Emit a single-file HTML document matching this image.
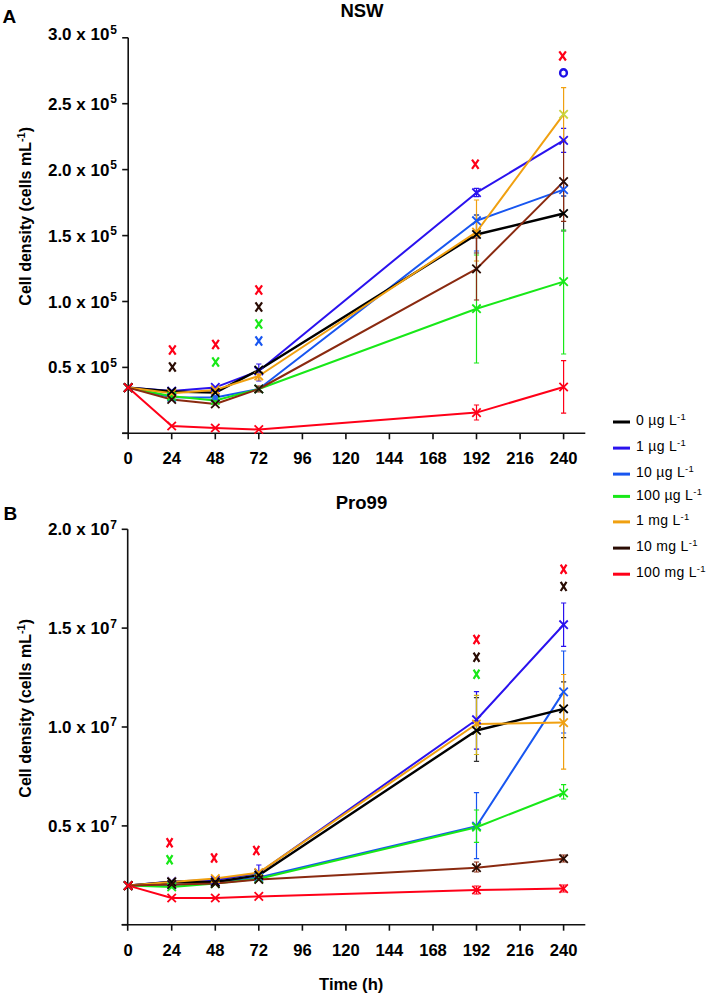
<!DOCTYPE html>
<html><head><meta charset="utf-8"><style>
html,body{margin:0;padding:0;background:#fff;}
svg{display:block;}
text{font-family:"Liberation Sans",sans-serif;}
.pl{font-size:19px;font-weight:bold;}
.ti{font-size:18.5px;font-weight:bold;}
.yl{font-size:17px;font-weight:bold;}
.sup{font-size:12px;font-weight:bold;}
.xl{font-size:16.6px;font-weight:bold;}
.yt{font-size:16px;font-weight:bold;}
.st{font-size:11px;}
.xt{font-size:16.6px;font-weight:bold;}
.an{font-size:13px;font-weight:bold;}
.lg{font-size:14px;letter-spacing:0.3px;}
.ls{font-size:9.5px;}
</style></head><body>
<svg width="708" height="996" viewBox="0 0 708 996">
<text x="2.6" y="22.6" class="pl">A</text>
<text x="3.5" y="519.5" class="pl">B</text>
<text x="362" y="17" class="ti" text-anchor="middle">NSW</text>
<text x="361.5" y="509" class="ti" text-anchor="middle">Pro99</text>
<path d="M128.2 37.8V439.3M122.19999999999999 433.3H585.3" stroke="#111" stroke-width="1.6" fill="none"/>
<path d="M122.19999999999999 433.3H128.2" stroke="#111" stroke-width="1.6"/>
<path d="M122.19999999999999 367.4H128.2" stroke="#111" stroke-width="1.6"/>
<path d="M122.19999999999999 301.5H128.2" stroke="#111" stroke-width="1.6"/>
<path d="M122.19999999999999 235.6H128.2" stroke="#111" stroke-width="1.6"/>
<path d="M122.19999999999999 169.6H128.2" stroke="#111" stroke-width="1.6"/>
<path d="M122.19999999999999 103.7H128.2" stroke="#111" stroke-width="1.6"/>
<path d="M122.19999999999999 37.8H128.2" stroke="#111" stroke-width="1.6"/>
<path d="M171.7 433.3V439.3" stroke="#111" stroke-width="1.6"/>
<path d="M215.3 433.3V439.3" stroke="#111" stroke-width="1.6"/>
<path d="M258.8 433.3V439.3" stroke="#111" stroke-width="1.6"/>
<path d="M302.4 433.3V439.3" stroke="#111" stroke-width="1.6"/>
<path d="M345.9 433.3V439.3" stroke="#111" stroke-width="1.6"/>
<path d="M389.4 433.3V439.3" stroke="#111" stroke-width="1.6"/>
<path d="M433.0 433.3V439.3" stroke="#111" stroke-width="1.6"/>
<path d="M476.5 433.3V439.3" stroke="#111" stroke-width="1.6"/>
<path d="M520.1 433.3V439.3" stroke="#111" stroke-width="1.6"/>
<path d="M563.6 433.3V439.3" stroke="#111" stroke-width="1.6"/>
<text x="109.4" y="40.2" class="yl" text-anchor="end">3.0 x 10</text><text x="110.3" y="33.6" class="sup">5</text>
<text x="109.4" y="109.7" class="yl" text-anchor="end">2.5 x 10</text><text x="110.3" y="103.1" class="sup">5</text>
<text x="109.4" y="175.6" class="yl" text-anchor="end">2.0 x 10</text><text x="110.3" y="169.0" class="sup">5</text>
<text x="109.4" y="241.6" class="yl" text-anchor="end">1.5 x 10</text><text x="110.3" y="235.0" class="sup">5</text>
<text x="109.4" y="307.5" class="yl" text-anchor="end">1.0 x 10</text><text x="110.3" y="300.9" class="sup">5</text>
<text x="109.4" y="373.4" class="yl" text-anchor="end">0.5 x 10</text><text x="110.3" y="366.8" class="sup">5</text>
<text x="128.2" y="464.1" class="xl" text-anchor="middle">0</text>
<text x="171.7" y="464.1" class="xl" text-anchor="middle">24</text>
<text x="215.3" y="464.1" class="xl" text-anchor="middle">48</text>
<text x="258.8" y="464.1" class="xl" text-anchor="middle">72</text>
<text x="302.4" y="464.1" class="xl" text-anchor="middle">96</text>
<text x="345.9" y="464.1" class="xl" text-anchor="middle">120</text>
<text x="389.4" y="464.1" class="xl" text-anchor="middle">144</text>
<text x="433.0" y="464.1" class="xl" text-anchor="middle">168</text>
<text x="476.5" y="464.1" class="xl" text-anchor="middle">192</text>
<text x="520.1" y="464.1" class="xl" text-anchor="middle">216</text>
<text x="563.6" y="464.1" class="xl" text-anchor="middle">240</text>
<path d="M127.7 529.3V930.7M121.7 924.7H585.3" stroke="#111" stroke-width="1.6" fill="none"/>
<path d="M121.7 924.7H127.7" stroke="#111" stroke-width="1.6"/>
<path d="M121.7 825.9H127.7" stroke="#111" stroke-width="1.6"/>
<path d="M121.7 727.0H127.7" stroke="#111" stroke-width="1.6"/>
<path d="M121.7 628.1H127.7" stroke="#111" stroke-width="1.6"/>
<path d="M121.7 529.3H127.7" stroke="#111" stroke-width="1.6"/>
<path d="M171.7 924.7V930.7" stroke="#111" stroke-width="1.6"/>
<path d="M215.3 924.7V930.7" stroke="#111" stroke-width="1.6"/>
<path d="M258.8 924.7V930.7" stroke="#111" stroke-width="1.6"/>
<path d="M302.4 924.7V930.7" stroke="#111" stroke-width="1.6"/>
<path d="M345.9 924.7V930.7" stroke="#111" stroke-width="1.6"/>
<path d="M389.4 924.7V930.7" stroke="#111" stroke-width="1.6"/>
<path d="M433.0 924.7V930.7" stroke="#111" stroke-width="1.6"/>
<path d="M476.5 924.7V930.7" stroke="#111" stroke-width="1.6"/>
<path d="M520.1 924.7V930.7" stroke="#111" stroke-width="1.6"/>
<path d="M563.6 924.7V930.7" stroke="#111" stroke-width="1.6"/>
<text x="109.4" y="535.3" class="yl" text-anchor="end">2.0 x 10</text><text x="110.3" y="528.7" class="sup">7</text>
<text x="109.4" y="634.1" class="yl" text-anchor="end">1.5 x 10</text><text x="110.3" y="627.5" class="sup">7</text>
<text x="109.4" y="733.0" class="yl" text-anchor="end">1.0 x 10</text><text x="110.3" y="726.4" class="sup">7</text>
<text x="109.4" y="831.9" class="yl" text-anchor="end">0.5 x 10</text><text x="110.3" y="825.2" class="sup">7</text>
<text x="128.2" y="955.5" class="xl" text-anchor="middle">0</text>
<text x="171.7" y="955.5" class="xl" text-anchor="middle">24</text>
<text x="215.3" y="955.5" class="xl" text-anchor="middle">48</text>
<text x="258.8" y="955.5" class="xl" text-anchor="middle">72</text>
<text x="302.4" y="955.5" class="xl" text-anchor="middle">96</text>
<text x="345.9" y="955.5" class="xl" text-anchor="middle">120</text>
<text x="389.4" y="955.5" class="xl" text-anchor="middle">144</text>
<text x="433.0" y="955.5" class="xl" text-anchor="middle">168</text>
<text x="476.5" y="955.5" class="xl" text-anchor="middle">192</text>
<text x="520.1" y="955.5" class="xl" text-anchor="middle">216</text>
<text x="563.6" y="955.5" class="xl" text-anchor="middle">240</text>
<text transform="translate(30.8,216.3) rotate(-90)" class="yt" text-anchor="middle">Cell density (cells mL<tspan class="st" dy="-6">-1</tspan><tspan dy="6">)</tspan></text>
<text transform="translate(30.8,708.3) rotate(-90)" class="yt" text-anchor="middle">Cell density (cells mL<tspan class="st" dy="-6">-1</tspan><tspan dy="6">)</tspan></text>
<text x="351.2" y="989.6" class="xt" text-anchor="middle">Time (h)</text>
<polyline points="128.2,387.6 171.7,391.0 215.3,387.4 258.8,371.0 476.5,192.7 563.6,140.4" fill="none" stroke="#2a12ee" stroke-width="2.0" stroke-linejoin="round"/>
<polyline points="128.2,387.6 171.7,397.3 215.3,397.5 258.8,389.0 476.5,220.7 563.6,189.6" fill="none" stroke="#1856f0" stroke-width="2.0" stroke-linejoin="round"/>
<polyline points="128.2,387.6 171.7,396.3 215.3,400.5 258.8,389.0 476.5,308.7 563.6,281.6" fill="none" stroke="#18e818" stroke-width="2.0" stroke-linejoin="round"/>
<polyline points="128.2,387.6 171.7,391.5 215.3,392.6 258.8,370.0 476.5,234.5 563.6,213.5" fill="none" stroke="#000000" stroke-width="2.4" stroke-linejoin="round"/>
<polyline points="128.2,387.6 171.7,393.3 215.3,389.9 258.8,376.0 476.5,232.0 563.6,114.3" fill="none" stroke="#f0a010" stroke-width="2.0" stroke-linejoin="round"/>
<polyline points="128.2,387.6 171.7,399.5 215.3,404.0 258.8,389.0 476.5,268.9 563.6,181.6" fill="none" stroke="#8a2a10" stroke-width="2.0" stroke-linejoin="round"/>
<polyline points="128.2,387.6 171.7,426.0 215.3,428.0 258.8,429.5 476.5,412.6 563.6,387.0" fill="none" stroke="#ff0018" stroke-width="2.0" stroke-linejoin="round"/>
<path d="M476.5 215.0V253.0M473.9 215.0H479.1M473.9 253.0H479.1" stroke="#333" stroke-width="1.2" fill="none"/>
<path d="M563.6 196.0V231.0M561.0 196.0H566.2M561.0 231.0H566.2" stroke="#333" stroke-width="1.2" fill="none"/>
<path d="M476.5 188.3V196.6M473.9 188.3H479.1M473.9 196.6H479.1" stroke="#2a12ee" stroke-width="1.2" fill="none"/>
<path d="M563.6 128.4V152.4M561.0 128.4H566.2M561.0 152.4H566.2" stroke="#2a12ee" stroke-width="1.2" fill="none"/>
<path d="M258.8 364.0V381.0M256.2 364.0H261.4M256.2 381.0H261.4" stroke="#2a12ee" stroke-width="1.2" fill="none"/>
<path d="M476.5 215.0V251.0M473.9 215.0H479.1M473.9 251.0H479.1" stroke="#1856f0" stroke-width="1.2" fill="none"/>
<path d="M563.6 183.0V196.0M561.0 183.0H566.2M561.0 196.0H566.2" stroke="#1856f0" stroke-width="1.2" fill="none"/>
<path d="M476.5 255.0V363.0M473.9 255.0H479.1M473.9 363.0H479.1" stroke="#18e818" stroke-width="1.2" fill="none"/>
<path d="M563.6 230.0V354.0M561.0 230.0H566.2M561.0 354.0H566.2" stroke="#18e818" stroke-width="1.2" fill="none"/>
<path d="M476.5 200.0V261.0M473.9 200.0H479.1M473.9 261.0H479.1" stroke="#f0a010" stroke-width="1.2" fill="none"/>
<path d="M563.6 87.6V141.0M561.0 87.6H566.2M561.0 141.0H566.2" stroke="#f0a010" stroke-width="1.2" fill="none"/>
<path d="M258.8 372.0V380.0M256.2 372.0H261.4M256.2 380.0H261.4" stroke="#f0a010" stroke-width="1.2" fill="none"/>
<path d="M476.5 238.0V300.0M473.9 238.0H479.1M473.9 300.0H479.1" stroke="#8a2a10" stroke-width="1.2" fill="none"/>
<path d="M563.6 141.0V221.3M561.0 141.0H566.2M561.0 221.3H566.2" stroke="#8a2a10" stroke-width="1.2" fill="none"/>
<path d="M258.8 386.0V392.0M256.2 386.0H261.4M256.2 392.0H261.4" stroke="#8a2a10" stroke-width="1.2" fill="none"/>
<path d="M476.5 405.0V420.0M473.9 405.0H479.1M473.9 420.0H479.1" stroke="#ff0018" stroke-width="1.2" fill="none"/>
<path d="M563.6 360.6V413.2M561.0 360.6H566.2M561.0 413.2H566.2" stroke="#ff0018" stroke-width="1.2" fill="none"/>
<path d="M124.0 383.4L132.4 391.8M132.4 383.4L124.0 391.8" stroke="#2a12ee" stroke-width="1.8" fill="none"/>
<path d="M167.5 386.8L175.9 395.2M175.9 386.8L167.5 395.2" stroke="#2a12ee" stroke-width="1.8" fill="none"/>
<path d="M211.1 383.2L219.5 391.6M219.5 383.2L211.1 391.6" stroke="#2a12ee" stroke-width="1.8" fill="none"/>
<path d="M254.6 366.8L263.0 375.2M263.0 366.8L254.6 375.2" stroke="#2a12ee" stroke-width="1.8" fill="none"/>
<path d="M472.3 188.5L480.7 196.9M480.7 188.5L472.3 196.9" stroke="#2a12ee" stroke-width="1.8" fill="none"/>
<path d="M559.4 136.2L567.8 144.6M567.8 136.2L559.4 144.6" stroke="#2a12ee" stroke-width="1.8" fill="none"/>
<path d="M124.0 383.4L132.4 391.8M132.4 383.4L124.0 391.8" stroke="#1856f0" stroke-width="1.8" fill="none"/>
<path d="M167.5 393.1L175.9 401.5M175.9 393.1L167.5 401.5" stroke="#1856f0" stroke-width="1.8" fill="none"/>
<path d="M211.1 393.3L219.5 401.7M219.5 393.3L211.1 401.7" stroke="#1856f0" stroke-width="1.8" fill="none"/>
<path d="M254.6 384.8L263.0 393.2M263.0 384.8L254.6 393.2" stroke="#1856f0" stroke-width="1.8" fill="none"/>
<path d="M472.3 216.5L480.7 224.9M480.7 216.5L472.3 224.9" stroke="#1856f0" stroke-width="1.8" fill="none"/>
<path d="M559.4 185.4L567.8 193.8M567.8 185.4L559.4 193.8" stroke="#1856f0" stroke-width="1.8" fill="none"/>
<path d="M124.0 383.4L132.4 391.8M132.4 383.4L124.0 391.8" stroke="#18e818" stroke-width="1.8" fill="none"/>
<path d="M167.5 392.1L175.9 400.5M175.9 392.1L167.5 400.5" stroke="#18e818" stroke-width="1.8" fill="none"/>
<path d="M211.1 396.3L219.5 404.7M219.5 396.3L211.1 404.7" stroke="#18e818" stroke-width="1.8" fill="none"/>
<path d="M254.6 384.8L263.0 393.2M263.0 384.8L254.6 393.2" stroke="#18e818" stroke-width="1.8" fill="none"/>
<path d="M472.3 304.5L480.7 312.9M480.7 304.5L472.3 312.9" stroke="#18e818" stroke-width="1.8" fill="none"/>
<path d="M559.4 277.4L567.8 285.8M567.8 277.4L559.4 285.8" stroke="#18e818" stroke-width="1.8" fill="none"/>
<path d="M124.0 383.4L132.4 391.8M132.4 383.4L124.0 391.8" stroke="#f0a010" stroke-width="1.8" fill="none"/>
<path d="M167.5 389.1L175.9 397.5M175.9 389.1L167.5 397.5" stroke="#f0a010" stroke-width="1.8" fill="none"/>
<path d="M211.1 385.7L219.5 394.1M219.5 385.7L211.1 394.1" stroke="#f0a010" stroke-width="1.8" fill="none"/>
<path d="M254.6 371.8L263.0 380.2M263.0 371.8L254.6 380.2" stroke="#f0a010" stroke-width="1.8" fill="none"/>
<path d="M472.3 227.8L480.7 236.2M480.7 227.8L472.3 236.2" stroke="#f0a010" stroke-width="1.8" fill="none"/>
<path d="M559.4 110.1L567.8 118.5M567.8 110.1L559.4 118.5" stroke="#c8d440" stroke-width="1.8" fill="none"/>
<path d="M124.0 383.4L132.4 391.8M132.4 383.4L124.0 391.8" stroke="#000000" stroke-width="1.8" fill="none"/>
<path d="M167.5 387.3L175.9 395.7M175.9 387.3L167.5 395.7" stroke="#000000" stroke-width="1.8" fill="none"/>
<path d="M211.1 388.4L219.5 396.8M219.5 388.4L211.1 396.8" stroke="#000000" stroke-width="1.8" fill="none"/>
<path d="M254.6 365.8L263.0 374.2M263.0 365.8L254.6 374.2" stroke="#000000" stroke-width="1.8" fill="none"/>
<path d="M472.3 230.3L480.7 238.7M480.7 230.3L472.3 238.7" stroke="#000000" stroke-width="1.8" fill="none"/>
<path d="M559.4 209.3L567.8 217.7M567.8 209.3L559.4 217.7" stroke="#000000" stroke-width="1.8" fill="none"/>
<path d="M124.0 383.4L132.4 391.8M132.4 383.4L124.0 391.8" stroke="#2a0c04" stroke-width="1.8" fill="none"/>
<path d="M167.5 395.3L175.9 403.7M175.9 395.3L167.5 403.7" stroke="#2a0c04" stroke-width="1.8" fill="none"/>
<path d="M211.1 399.8L219.5 408.2M219.5 399.8L211.1 408.2" stroke="#2a0c04" stroke-width="1.8" fill="none"/>
<path d="M254.6 384.8L263.0 393.2M263.0 384.8L254.6 393.2" stroke="#2a0c04" stroke-width="1.8" fill="none"/>
<path d="M472.3 264.7L480.7 273.1M480.7 264.7L472.3 273.1" stroke="#2a0c04" stroke-width="1.8" fill="none"/>
<path d="M559.4 177.4L567.8 185.8M567.8 177.4L559.4 185.8" stroke="#2a0c04" stroke-width="1.8" fill="none"/>
<path d="M124.0 383.4L132.4 391.8M132.4 383.4L124.0 391.8" stroke="#ff0018" stroke-width="1.8" fill="none"/>
<path d="M167.5 421.8L175.9 430.2M175.9 421.8L167.5 430.2" stroke="#ff0018" stroke-width="1.8" fill="none"/>
<path d="M211.1 423.8L219.5 432.2M219.5 423.8L211.1 432.2" stroke="#ff0018" stroke-width="1.8" fill="none"/>
<path d="M254.6 425.3L263.0 433.7M263.0 425.3L254.6 433.7" stroke="#ff0018" stroke-width="1.8" fill="none"/>
<path d="M472.3 408.4L480.7 416.8M480.7 408.4L472.3 416.8" stroke="#ff0018" stroke-width="1.8" fill="none"/>
<path d="M559.4 382.8L567.8 391.2M567.8 382.8L559.4 391.2" stroke="#ff0018" stroke-width="1.8" fill="none"/>
<circle cx="215.3" cy="397.6" r="2.7" fill="#2a66f0"/>
<polyline points="128.2,885.6 171.7,881.4 215.3,880.0 258.8,873.0 476.5,719.7 563.6,624.7" fill="none" stroke="#2a12ee" stroke-width="2.0" stroke-linejoin="round"/>
<polyline points="128.2,885.6 171.7,885.0 215.3,882.8 258.8,877.4 476.5,826.2 563.6,691.9" fill="none" stroke="#1856f0" stroke-width="2.0" stroke-linejoin="round"/>
<polyline points="128.2,885.6 171.7,887.0 215.3,883.6 258.8,878.8 476.5,827.2 563.6,793.0" fill="none" stroke="#18e818" stroke-width="2.0" stroke-linejoin="round"/>
<polyline points="128.2,885.6 171.7,882.0 215.3,882.0 258.8,875.2 476.5,730.5 563.6,708.8" fill="none" stroke="#000000" stroke-width="2.4" stroke-linejoin="round"/>
<polyline points="128.2,885.6 171.7,881.9 215.3,878.6 258.8,872.6 476.5,724.0 563.6,722.6" fill="none" stroke="#f0a010" stroke-width="2.0" stroke-linejoin="round"/>
<polyline points="128.2,885.6 171.7,884.5 215.3,883.6 258.8,879.4 476.5,867.7 563.6,858.7" fill="none" stroke="#8a2a10" stroke-width="2.0" stroke-linejoin="round"/>
<polyline points="128.2,885.6 171.7,898.0 215.3,898.0 258.8,896.4 476.5,890.0 563.6,888.6" fill="none" stroke="#ff0018" stroke-width="2.0" stroke-linejoin="round"/>
<path d="M476.5 697.6V761.3M473.9 697.6H479.1M473.9 761.3H479.1" stroke="#333" stroke-width="1.2" fill="none"/>
<path d="M563.6 681.8V737.7M561.0 681.8H566.2M561.0 737.7H566.2" stroke="#333" stroke-width="1.2" fill="none"/>
<path d="M563.6 603.0V646.4M561.0 603.0H566.2M561.0 646.4H566.2" stroke="#2a12ee" stroke-width="1.2" fill="none"/>
<path d="M476.5 691.7V749.1M473.9 691.7H479.1M473.9 749.1H479.1" stroke="#2a12ee" stroke-width="1.2" fill="none"/>
<path d="M258.8 865.0V880.0M256.2 865.0H261.4M256.2 880.0H261.4" stroke="#2a12ee" stroke-width="1.2" fill="none"/>
<path d="M476.5 792.6V858.7M473.9 792.6H479.1M473.9 858.7H479.1" stroke="#1856f0" stroke-width="1.2" fill="none"/>
<path d="M563.6 651.0V733.0M561.0 651.0H566.2M561.0 733.0H566.2" stroke="#1856f0" stroke-width="1.2" fill="none"/>
<path d="M476.5 810.0V842.4M473.9 810.0H479.1M473.9 842.4H479.1" stroke="#18e818" stroke-width="1.2" fill="none"/>
<path d="M563.6 784.7V799.0M561.0 784.7H566.2M561.0 799.0H566.2" stroke="#18e818" stroke-width="1.2" fill="none"/>
<path d="M476.5 695.4V754.5M473.9 695.4H479.1M473.9 754.5H479.1" stroke="#d0b418" stroke-width="1.2" fill="none"/>
<path d="M563.6 674.5V769.1M561.0 674.5H566.2M561.0 769.1H566.2" stroke="#f0a010" stroke-width="1.2" fill="none"/>
<path d="M476.5 862.0V872.0M473.9 862.0H479.1M473.9 872.0H479.1" stroke="#8a2a10" stroke-width="1.2" fill="none"/>
<path d="M563.6 855.0V862.0M561.0 855.0H566.2M561.0 862.0H566.2" stroke="#8a2a10" stroke-width="1.2" fill="none"/>
<path d="M476.5 886.0V894.0M473.9 886.0H479.1M473.9 894.0H479.1" stroke="#ff0018" stroke-width="1.2" fill="none"/>
<path d="M563.6 885.0V892.0M561.0 885.0H566.2M561.0 892.0H566.2" stroke="#ff0018" stroke-width="1.2" fill="none"/>
<path d="M124.0 881.4L132.4 889.8M132.4 881.4L124.0 889.8" stroke="#2a12ee" stroke-width="1.8" fill="none"/>
<path d="M167.5 877.2L175.9 885.6M175.9 877.2L167.5 885.6" stroke="#2a12ee" stroke-width="1.8" fill="none"/>
<path d="M211.1 875.8L219.5 884.2M219.5 875.8L211.1 884.2" stroke="#2a12ee" stroke-width="1.8" fill="none"/>
<path d="M254.6 868.8L263.0 877.2M263.0 868.8L254.6 877.2" stroke="#2a12ee" stroke-width="1.8" fill="none"/>
<path d="M472.3 715.5L480.7 723.9M480.7 715.5L472.3 723.9" stroke="#2a12ee" stroke-width="1.8" fill="none"/>
<path d="M559.4 620.5L567.8 628.9M567.8 620.5L559.4 628.9" stroke="#2a12ee" stroke-width="1.8" fill="none"/>
<path d="M124.0 881.4L132.4 889.8M132.4 881.4L124.0 889.8" stroke="#1856f0" stroke-width="1.8" fill="none"/>
<path d="M167.5 880.8L175.9 889.2M175.9 880.8L167.5 889.2" stroke="#1856f0" stroke-width="1.8" fill="none"/>
<path d="M211.1 878.6L219.5 887.0M219.5 878.6L211.1 887.0" stroke="#1856f0" stroke-width="1.8" fill="none"/>
<path d="M254.6 873.2L263.0 881.6M263.0 873.2L254.6 881.6" stroke="#1856f0" stroke-width="1.8" fill="none"/>
<path d="M472.3 822.0L480.7 830.4M480.7 822.0L472.3 830.4" stroke="#1856f0" stroke-width="1.8" fill="none"/>
<path d="M559.4 687.7L567.8 696.1M567.8 687.7L559.4 696.1" stroke="#1856f0" stroke-width="1.8" fill="none"/>
<path d="M124.0 881.4L132.4 889.8M132.4 881.4L124.0 889.8" stroke="#18e818" stroke-width="1.8" fill="none"/>
<path d="M167.5 882.8L175.9 891.2M175.9 882.8L167.5 891.2" stroke="#18e818" stroke-width="1.8" fill="none"/>
<path d="M211.1 879.4L219.5 887.8M219.5 879.4L211.1 887.8" stroke="#18e818" stroke-width="1.8" fill="none"/>
<path d="M254.6 874.6L263.0 883.0M263.0 874.6L254.6 883.0" stroke="#18e818" stroke-width="1.8" fill="none"/>
<path d="M472.3 823.0L480.7 831.4M480.7 823.0L472.3 831.4" stroke="#18e818" stroke-width="1.8" fill="none"/>
<path d="M559.4 788.8L567.8 797.2M567.8 788.8L559.4 797.2" stroke="#18e818" stroke-width="1.8" fill="none"/>
<path d="M124.0 881.4L132.4 889.8M132.4 881.4L124.0 889.8" stroke="#f0a010" stroke-width="1.8" fill="none"/>
<path d="M167.5 877.7L175.9 886.1M175.9 877.7L167.5 886.1" stroke="#f0a010" stroke-width="1.8" fill="none"/>
<path d="M211.1 874.4L219.5 882.8M219.5 874.4L211.1 882.8" stroke="#f0a010" stroke-width="1.8" fill="none"/>
<path d="M254.6 868.4L263.0 876.8M263.0 868.4L254.6 876.8" stroke="#f0a010" stroke-width="1.8" fill="none"/>
<path d="M472.3 719.8L480.7 728.2M480.7 719.8L472.3 728.2" stroke="#f0a010" stroke-width="1.8" fill="none"/>
<path d="M559.4 718.4L567.8 726.8M567.8 718.4L559.4 726.8" stroke="#f0a010" stroke-width="1.8" fill="none"/>
<path d="M124.0 881.4L132.4 889.8M132.4 881.4L124.0 889.8" stroke="#000000" stroke-width="1.8" fill="none"/>
<path d="M167.5 877.8L175.9 886.2M175.9 877.8L167.5 886.2" stroke="#000000" stroke-width="1.8" fill="none"/>
<path d="M211.1 877.8L219.5 886.2M219.5 877.8L211.1 886.2" stroke="#000000" stroke-width="1.8" fill="none"/>
<path d="M254.6 871.0L263.0 879.4M263.0 871.0L254.6 879.4" stroke="#000000" stroke-width="1.8" fill="none"/>
<path d="M472.3 726.3L480.7 734.7M480.7 726.3L472.3 734.7" stroke="#000000" stroke-width="1.8" fill="none"/>
<path d="M559.4 704.6L567.8 713.0M567.8 704.6L559.4 713.0" stroke="#000000" stroke-width="1.8" fill="none"/>
<path d="M124.0 881.4L132.4 889.8M132.4 881.4L124.0 889.8" stroke="#2a0c04" stroke-width="1.8" fill="none"/>
<path d="M167.5 880.3L175.9 888.7M175.9 880.3L167.5 888.7" stroke="#2a0c04" stroke-width="1.8" fill="none"/>
<path d="M211.1 879.4L219.5 887.8M219.5 879.4L211.1 887.8" stroke="#2a0c04" stroke-width="1.8" fill="none"/>
<path d="M254.6 875.2L263.0 883.6M263.0 875.2L254.6 883.6" stroke="#2a0c04" stroke-width="1.8" fill="none"/>
<path d="M472.3 863.5L480.7 871.9M480.7 863.5L472.3 871.9" stroke="#2a0c04" stroke-width="1.8" fill="none"/>
<path d="M559.4 854.5L567.8 862.9M567.8 854.5L559.4 862.9" stroke="#2a0c04" stroke-width="1.8" fill="none"/>
<path d="M124.0 881.4L132.4 889.8M132.4 881.4L124.0 889.8" stroke="#ff0018" stroke-width="1.8" fill="none"/>
<path d="M167.5 893.8L175.9 902.2M175.9 893.8L167.5 902.2" stroke="#ff0018" stroke-width="1.8" fill="none"/>
<path d="M211.1 893.8L219.5 902.2M219.5 893.8L211.1 902.2" stroke="#ff0018" stroke-width="1.8" fill="none"/>
<path d="M254.6 892.2L263.0 900.6M263.0 892.2L254.6 900.6" stroke="#ff0018" stroke-width="1.8" fill="none"/>
<path d="M472.3 885.8L480.7 894.2M480.7 885.8L472.3 894.2" stroke="#ff0018" stroke-width="1.8" fill="none"/>
<path d="M559.4 884.4L567.8 892.8M567.8 884.4L559.4 892.8" stroke="#ff0018" stroke-width="1.8" fill="none"/>
<path d="M169.1 345.4L175.7 354.6M175.7 345.4L169.1 354.6" stroke="#ff0018" stroke-width="2.2" fill="none"/>
<path d="M169.1 362.4L175.7 371.6M175.7 362.4L169.1 371.6" stroke="#2a0c04" stroke-width="2.2" fill="none"/>
<path d="M212.3 339.9L218.9 349.1M218.9 339.9L212.3 349.1" stroke="#ff0018" stroke-width="2.2" fill="none"/>
<path d="M212.3 357.4L218.9 366.6M218.9 357.4L212.3 366.6" stroke="#18e818" stroke-width="2.2" fill="none"/>
<path d="M255.5 285.4L262.1 294.6M262.1 285.4L255.5 294.6" stroke="#ff0018" stroke-width="2.2" fill="none"/>
<path d="M255.5 302.4L262.1 311.6M262.1 302.4L255.5 311.6" stroke="#2a0c04" stroke-width="2.2" fill="none"/>
<path d="M255.5 319.4L262.1 328.6M262.1 319.4L255.5 328.6" stroke="#18e818" stroke-width="2.2" fill="none"/>
<path d="M255.5 336.4L262.1 345.6M262.1 336.4L255.5 345.6" stroke="#1856f0" stroke-width="2.2" fill="none"/>
<path d="M472.0 159.7L478.6 168.9M478.6 159.7L472.0 168.9" stroke="#ff0018" stroke-width="2.2" fill="none"/>
<path d="M559.3 51.3L565.9 60.5M565.9 51.3L559.3 60.5" stroke="#ff0018" stroke-width="2.2" fill="none"/>
<ellipse cx="563.5" cy="72.9" rx="3.4" ry="3.7" fill="none" stroke="#1e10e6" stroke-width="2.4"/>
<path d="M166.7 838.1L172.5 847.3M172.5 838.1L166.7 847.3" stroke="#ff0018" stroke-width="2.2" fill="none"/>
<path d="M166.7 855.2L172.5 864.4M172.5 855.2L166.7 864.4" stroke="#18e818" stroke-width="2.2" fill="none"/>
<path d="M211.2 853.4L217.0 862.6M217.0 853.4L211.2 862.6" stroke="#ff0018" stroke-width="2.2" fill="none"/>
<path d="M253.4 845.9L259.2 855.1M259.2 845.9L253.4 855.1" stroke="#ff0018" stroke-width="2.2" fill="none"/>
<path d="M473.6 634.9L479.4 644.1M479.4 634.9L473.6 644.1" stroke="#ff0018" stroke-width="2.2" fill="none"/>
<path d="M473.6 652.6L479.4 661.8M479.4 652.6L473.6 661.8" stroke="#2a0c04" stroke-width="2.2" fill="none"/>
<path d="M473.6 669.7L479.4 678.9M479.4 669.7L473.6 678.9" stroke="#18e818" stroke-width="2.2" fill="none"/>
<path d="M560.7 564.6L566.5 573.8M566.5 564.6L560.7 573.8" stroke="#ff0018" stroke-width="2.2" fill="none"/>
<path d="M560.7 581.8L566.5 591.0M566.5 581.8L560.7 591.0" stroke="#2a0c04" stroke-width="2.2" fill="none"/>
<path d="M613 422.0H630" stroke="#000000" stroke-width="3"/>
<text x="636" y="425.2" class="lg">0 µg L<tspan class="ls" dy="-5">-1</tspan></text>
<path d="M613 448.1H630" stroke="#2a12ee" stroke-width="3"/>
<text x="636" y="451.3" class="lg">1 µg L<tspan class="ls" dy="-5">-1</tspan></text>
<path d="M613 474.1H630" stroke="#1856f0" stroke-width="3"/>
<text x="636" y="477.3" class="lg">10 µg L<tspan class="ls" dy="-5">-1</tspan></text>
<path d="M613 496.4H630" stroke="#18e818" stroke-width="3"/>
<text x="636" y="499.6" class="lg">100 µg L<tspan class="ls" dy="-5">-1</tspan></text>
<path d="M613 521.9H630" stroke="#f0a010" stroke-width="3"/>
<text x="636" y="525.1" class="lg">1 mg L<tspan class="ls" dy="-5">-1</tspan></text>
<path d="M613 548.1H630" stroke="#2a0c04" stroke-width="3"/>
<text x="636" y="551.3" class="lg">10 mg L<tspan class="ls" dy="-5">-1</tspan></text>
<path d="M613 574.2H630" stroke="#ff0018" stroke-width="3"/>
<text x="636" y="577.4" class="lg">100 mg L<tspan class="ls" dy="-5">-1</tspan></text>
</svg>
</body></html>
